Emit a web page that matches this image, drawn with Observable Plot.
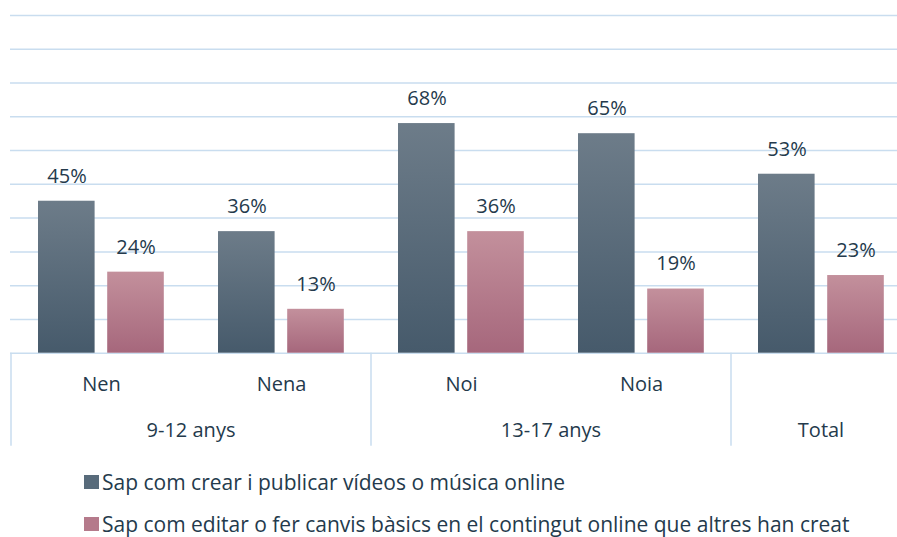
<!DOCTYPE html>
<html>
<head>
<meta charset="utf-8">
<script src="https://cdn.jsdelivr.net/npm/d3@7"></script>
<script src="https://cdn.jsdelivr.net/npm/@observablehq/plot@0.6"></script>
<style>
  html, body { margin: 0; padding: 0; background: #fff; }
  body { width: 897px; height: 537px; position: relative; overflow: hidden; font-family: "Open Sans", sans-serif; color: #243a4c; }
  #wrap { width: 897px; overflow: hidden; }
  #wrap svg { max-width: none !important; display: block; }
  .item { position: absolute; left: 84px; display: flex; align-items: center; font-size: 21px; line-height: 26px; white-space: nowrap; }
  .sw { width: 15px; height: 14px; margin-right: 3px; }
</style>
</head>
<body>
<div id="wrap"></div>
<div id="legend"></div>
<script>
// ---- data ----
const categories = ["Nen", "Nena", "Noi", "Noia", "Total"];
const subLabels = ["Nen", "Nena", "Noi", "Noia", ""];
const groupNames = ["9-12 anys", "13-17 anys", "Total"];
const groupMembers = [["Nen", "Nena"], ["Noi", "Noia"], ["Total"]];
const seriesNames = [
  "Sap com crear i publicar vídeos o música online",
  "Sap com editar o fer canvis bàsics en el contingut online que altres han creat"
];
const createValues = [45, 36, 68, 65, 53];
const editValues = [24, 13, 36, 19, 23];
const gridTicks = [0, 10, 20, 30, 40, 50, 60, 70, 80, 90, 100];

// ---- style ----
const textColor = "#243a4c";
const gridColor = "#c9ddef";
const seriesColors = ["#586b7b", "#b57a8b"];

const dataCreate = categories.map((c, i) => ({category: c, value: createValues[i]}));
const dataEdit = categories.map((c, i) => ({category: c, value: editValues[i]}));
const axisLabels = categories.map((c, i) => ({category: c, label: subLabels[i]}));

function defs() {
  const d = d3.create("svg:defs");
  const mk = (id, top, bottom) => {
    const g = d.append("linearGradient").attr("id", id).attr("x1", 0).attr("y1", 0).attr("x2", 0).attr("y2", 1);
    g.append("stop").attr("offset", "0%").attr("stop-color", top);
    g.append("stop").attr("offset", "100%").attr("stop-color", bottom);
  };
  mk("gDark", "#6d7c89", "#465a6b");
  mk("gPink", "#c3909c", "#a6677c");
  return d.node();
}

function groupAxis(index, scales, values, dims) {
  const x = scales.x;
  const bw = typeof x.bandwidth === "function" ? x.bandwidth() : x.bandwidth;
  const y0 = dims.height - dims.marginBottom;
  const g = d3.create("svg:g");
  const edges = [];
  groupMembers.forEach(m => edges.push(x(m[0])));
  edges.push(x(groupMembers[groupMembers.length - 1].slice(-1)[0]) + bw);
  for (const e of edges) {
    g.append("line").attr("x1", e).attr("x2", e).attr("y1", y0).attr("y2", y0 + 93)
      .attr("stroke", gridColor).attr("stroke-width", 1.5);
  }
  groupMembers.forEach((m, i) => {
    const left = x(m[0]);
    const right = x(m[m.length - 1]) + bw;
    g.append("text").attr("x", (left + right) / 2).attr("y", y0 + 78).attr("dy", "0.32em")
      .attr("text-anchor", "middle").attr("font-size", 20).attr("fill", textColor)
      .attr("font-family", "Open Sans, sans-serif").text(groupNames[i]);
  });
  return g.node();
}

const chart = Plot.plot({
  width: 912,
  height: 455,
  marginLeft: 10,
  marginRight: 0,
  marginTop: 15,
  marginBottom: 102.3,
  style: {fontFamily: "Open Sans, sans-serif", background: "transparent", maxWidth: "none"},
  x: {type: "band", domain: categories, padding: 0, axis: null},
  y: {domain: [0, 100], axis: null},
  marks: [
    defs,
    Plot.ruleY(gridTicks, {stroke: gridColor, strokeWidth: 1.5}),
    Plot.barY(dataCreate, {x: "category", y: "value", fill: "url(#gDark)", insetLeft: 27, insetRight: 96.4}),
    Plot.barY(dataEdit, {x: "category", y: "value", fill: "url(#gPink)", insetLeft: 96.2, insetRight: 27.2}),
    Plot.text(dataCreate, {x: "category", y: "value", text: d => d.value + "%", dx: -34.5, dy: -25, fontSize: 20, fill: textColor}),
    Plot.text(dataEdit, {x: "category", y: "value", text: d => d.value + "%", dx: 34.5, dy: -25, fontSize: 20, fill: textColor}),
    Plot.text(axisLabels, {x: "category", frameAnchor: "bottom", lineAnchor: "middle", dy: 31, text: "label", fontSize: 20, fill: textColor}),
    groupAxis
  ]
});
document.getElementById("wrap").appendChild(chart);

// ---- legend ----
const legend = document.getElementById("legend");
const centers = [482, 524];
seriesNames.forEach((name, i) => {
  const item = document.createElement("div");
  item.className = "item";
  item.style.top = (centers[i] - 13) + "px";
  const sw = document.createElement("span");
  sw.className = "sw";
  sw.style.background = seriesColors[i];
  const t = document.createElement("span");
  t.textContent = name;
  item.appendChild(sw);
  item.appendChild(t);
  legend.appendChild(item);
});
</script>
</body>
</html>
